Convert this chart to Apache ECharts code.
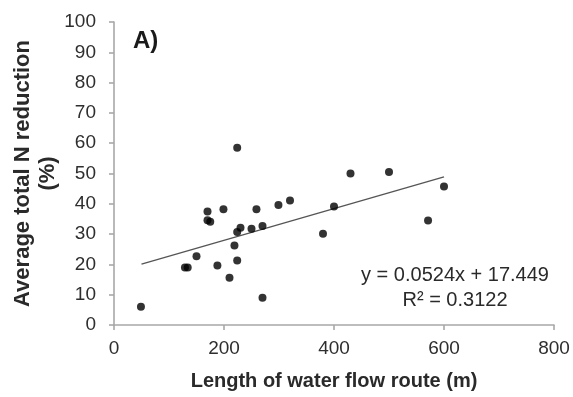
<!DOCTYPE html>
<html>
<head>
<meta charset="utf-8">
<script src="https://cdn.jsdelivr.net/npm/echarts@6/dist/echarts.min.js"></script>
<style>html,body{margin:0;padding:0;background:#fff}#c{width:573px;height:397px}</style>
</head>
<body>
<div id="c"></div>
<script>
// Data
var flowLength = [49, 129, 134, 150, 170, 170, 175, 188, 199, 210, 219, 224, 224, 224, 230, 250, 259, 270, 270, 299, 320, 380, 400, 430, 500, 571, 600];
var nReduction = [6.0, 19.0, 19.0, 22.7, 37.5, 34.6, 34.1, 19.6, 38.2, 15.6, 26.2, 21.3, 58.5, 30.7, 32.1, 31.8, 38.2, 32.7, 9.0, 39.6, 41.1, 30.1, 39.1, 50.0, 50.5, 34.5, 45.7];
var trendRangeX = [50, 600];
var slope = [0.0524];
var intercept = [17.449];
var xTicks = [0, 200, 400, 600, 800];
var yTicks = [0, 10, 20, 30, 40, 50, 60, 70, 80, 90, 100];
var equationLines = ['y = 0.0524x + 17.449', 'R\u00b2 = 0.3122'];
var panelLabel = 'A)';

var points = flowLength.map(function (x, i) { return [x, nReduction[i]]; });
var trend = trendRangeX.map(function (x) { return [x, slope[0] * x + intercept[0]]; });

var FONT = '"Liberation Sans", Arial, sans-serif';
var chart = echarts.init(document.getElementById('c'), null, {renderer: 'canvas'});
var axisLineStyle = {color: '#a8a8a8', width: 1.6};
chart.setOption({
  animation: false,
  grid: {left: 114, right: 19, top: 22, bottom: 72, containLabel: false, outerBoundsMode: 'none'},
  xAxis: {
    type: 'value', min: xTicks[0], max: xTicks[xTicks.length - 1], interval: 200,
    name: 'Length of water flow route (m)', nameLocation: 'middle', nameGap: 46, nameMoveOverlap: false,
    nameTextStyle: {fontFamily: FONT, fontWeight: 'bold', fontSize: 20, color: '#2a2a2a'},
    axisLine: {show: true, lineStyle: axisLineStyle, onZero: false},
    axisTick: {show: true, length: 5, inside: false, lineStyle: axisLineStyle},
    axisLabel: {fontFamily: FONT, fontSize: 19, color: '#2e2e2e', margin: 14,
      showMinLabel: true, showMaxLabel: true},
    splitLine: {show: false}
  },
  yAxis: {
    type: 'value', min: yTicks[0], max: yTicks[yTicks.length - 1], interval: 10,
    name: 'Average total N reduction\n(%)', nameLocation: 'middle', nameGap: 54, nameRotate: 90, nameMoveOverlap: false,
    nameTextStyle: {fontFamily: FONT, fontWeight: 'bold', fontSize: 22, lineHeight: 25, color: '#2a2a2a', align: 'center'},
    axisLine: {show: true, lineStyle: axisLineStyle, onZero: false},
    axisTick: {show: true, length: 5, inside: false, lineStyle: axisLineStyle},
    axisLabel: {fontFamily: FONT, fontSize: 19, color: '#2e2e2e', margin: 18,
      showMinLabel: true, showMaxLabel: true},
    splitLine: {show: false}
  },
  series: [
    {
      type: 'line', data: trend, symbol: 'none', silent: true,
      lineStyle: {color: '#555', width: 1.3}, z: 1
    },
    {
      type: 'scatter', data: points, symbol: 'circle', symbolSize: 8,
      itemStyle: {color: '#000'}, z: 2
    }
  ],
  graphic: [
    {type: 'text', left: 133, top: 29, style: {text: panelLabel, fontFamily: FONT, fontWeight: 'bold', fontSize: 24, fill: '#1a1a1a'}},
    {type: 'text', x: 455, y: 275, style: {text: equationLines[0], fontFamily: FONT, fontSize: 20, fill: '#2a2a2a', align: 'center', verticalAlign: 'middle'}},
    {type: 'text', x: 455, y: 300, style: {text: equationLines[1], fontFamily: FONT, fontSize: 20, fill: '#2a2a2a', align: 'center', verticalAlign: 'middle'}}
  ]
});
</script>
</body>
</html>
